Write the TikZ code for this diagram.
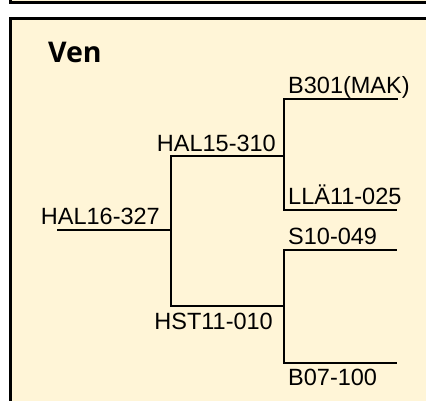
\documentclass[tikz,border=0pt]{standalone}
\usepackage{fontspec}
\setmainfont{Liberation Sans}
\newfontfamily\titlefont{Open Sans}
\definecolor{panelfill}{RGB}{255,245,215}

\begin{document}
\begin{tikzpicture}[x=1pt,y=-1pt,
    panel/.style={draw=black,line width=3pt,fill=panelfill},
    branch/.style={draw=black,line width=2pt},
    lbl/.style={inner sep=0pt,font=\fontsize{23.5}{26}\selectfont}]

  \useasboundingbox (0,0) rectangle (426,400);
  \clip (0,0) rectangle (426,400);

  % panels
  \path[panel] (10.5,-40) rectangle (440,2.5);
  \path[panel] (10.5,18) rectangle (440,430);

  \node [inner sep=0pt,anchor=base west,font=\titlefont\bfseries\fontsize{28.5}{32}\selectfont] (ven) at (48,62) {Ven};

  % tree points
  \coordinate (n0) at (57,230);
  \coordinate (j0) at (171,230);
  \coordinate (j1) at (284,156);
  \coordinate (j2) at (284,306);
  \coordinate (l1) at (398,99);
  \coordinate (l2) at (397,210);
  \coordinate (l3) at (397,250);
  \coordinate (l4) at (397,363);

  \draw [branch] (n0) -- (j0);
  \draw [branch] (j0) |- (j1);
  \draw [branch] (j0) |- (j2);
  \draw [branch] (j1) |- (l1);
  \draw [branch] (j1) |- (l2);
  \draw [branch] (j2) |- (l3);
  \draw [branch] (j2) |- (l4);

  % labels
  \node [lbl,anchor=base east] (hal16) at (160,224) {HAL16-327};
  \node [lbl,anchor=base east] (hal15) at (276,151) {HAL15-310};
  \node [lbl,anchor=base east] (hst11) at (273,329) {HST11-010};
  \node [lbl,anchor=base west] (b301)  at (288,93)  {B301(MAK)};
  \node [lbl,anchor=base west] (lla11) at (288,204) {LLÄ11-025};
  \node [lbl,anchor=base west] (s10)   at (288,244) {S10-049};
  \node [lbl,anchor=base west] (b07)   at (288,385) {B07-100};

\end{tikzpicture}
\end{document}
